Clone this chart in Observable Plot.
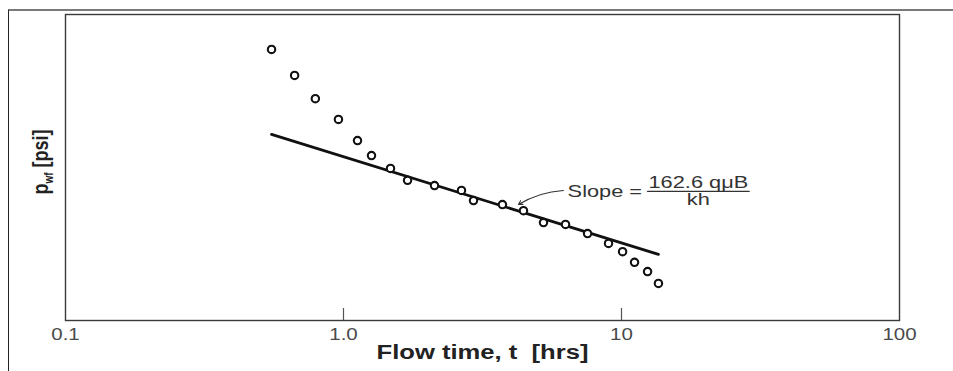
<!DOCTYPE html>
<html>
<head>
<meta charset="utf-8">
<script src="https://cdn.jsdelivr.net/npm/d3@7"></script>
<script src="https://cdn.jsdelivr.net/npm/@observablehq/plot@0.6"></script>
<style>
  html, body { margin: 0; padding: 0; background: #fff; }
  #wrap { position: relative; width: 953px; height: 371px; overflow: hidden; }
  #outer { position: absolute; left: 8px; top: 9px; right: 0; bottom: 0;
           border-top: 2px solid #7a7a7a; border-left: 1.5px solid #222; }
  #chart { position: absolute; left: 0; top: 0; }
</style>
</head>
<body>
<div id="wrap"><div id="outer"></div><div id="chart"></div></div>
<script>
// Measured data (flow time in hours, bottom-hole flowing pressure in psi, arbitrary scale)
const flowTime = [0.551, 0.667, 0.792, 0.959, 1.123, 1.261, 1.476, 1.70, 2.125, 2.657, 2.935,
                  3.73, 4.44, 5.24, 6.29, 7.55, 8.98, 10.09, 11.14, 12.41, 13.58];
const pwf = [2886, 2801, 2725, 2657, 2588, 2539, 2497, 2458, 2441, 2425, 2392,
             2379, 2359, 2320, 2314, 2284, 2252, 2225, 2190, 2160, 2121];

// Straight-line (semilog) fit
const fitTime = [0.551, 13.58];
const fitP = [2608, 2216];

// Axis ticks
const xTicks = [0.1, 1, 10, 100];
const xTickLabels = ["0.1", "1.0", "10", "100"];
const xInnerTicks = [1, 10];
const xLabel = "Flow time, t  [hrs]";

// Annotation
const slopeLabel = "Slope =";
const slopeLabelPos = [6.40, 2420];
const numerator = "162.6 qμB";
const denominator = "kh";
const fracCenter = 18.9;
const fracNumP = 2451;
const fracDenP = 2394;
const fracLineT = [12.4, 28.8];
const fracLineP = 2422;
const arrowFrom = [6.18, 2425];
const arrowTo = [4.26, 2379];

const pts = flowTime.map((t, i) => ({t, p: pwf[i]}));
const fit = fitTime.map((t, i) => ({t, p: fitP[i]}));

const plot = Plot.plot({
  width: 953,
  height: 371,
  marginLeft: 65,
  marginRight: 54,
  marginTop: 14,
  marginBottom: 51,
  style: {fontFamily: "'Liberation Sans', Arial, sans-serif", background: "transparent"},
  x: {type: "log", domain: [0.1, 100]},
  y: {domain: [2000, 3000], axis: null},
  marks: [
    Plot.frame({stroke: "#3a3a3a", strokeWidth: 1.4}),
    Plot.tickX(xInnerTicks, {x: d => d, insetTop: 294, stroke: "#555", strokeWidth: 1.2}),
    Plot.axisX({ticks: xTicks, tickSize: 0, tickPadding: 8, fontSize: 16, fill: "#4a4a4a",
                tickFormat: d => xTickLabels[xTicks.indexOf(d)], label: null}),
    Plot.text([xLabel], {frameAnchor: "bottom", dy: 38, text: d => d, fontSize: 20,
                         fontWeight: "bold", fill: "#222"}),
    Plot.line(fit, {x: "t", y: "p", stroke: "#111", strokeWidth: 2.8}),
    Plot.dot(pts, {x: "t", y: "p", r: 3.7, stroke: "#111", strokeWidth: 2.1, fill: "white"}),
    Plot.arrow([{a: arrowFrom, b: arrowTo}], {x1: d => d.a[0], y1: d => d.a[1], x2: d => d.b[0], y2: d => d.b[1],
                bend: -14, headLength: 6, stroke: "#333", strokeWidth: 1.1}),
    Plot.text([slopeLabel], {x: slopeLabelPos[0], y: slopeLabelPos[1], text: d => d, textAnchor: "start",
                             fontSize: 17, fill: "#333"}),
    Plot.text([numerator], {x: fracCenter, y: fracNumP, text: d => d, fontSize: 17, fill: "#333"}),
    Plot.text([denominator], {x: fracCenter, y: fracDenP, text: d => d, fontSize: 17, fill: "#333"}),
    Plot.line(fracLineT.map(t => ({t, p: fracLineP})), {x: "t", y: "p", stroke: "#333", strokeWidth: 1.3})
  ]
});

document.getElementById("chart").appendChild(plot);

// Horizontal stretch of horizontal texts to match the reference's wide rendering
d3.select(plot).selectAll("text").each(function() {
  const w = this.getComputedTextLength();
  if (w > 0) {
    this.setAttribute("textLength", (w * 1.28).toFixed(1));
    this.setAttribute("lengthAdjust", "spacingAndGlyphs");
  }
});

// Y axis label with subscript (rotated, glyphs widened horizontally like the reference)
const yl = d3.select(plot).append("text")
  .attr("transform", "translate(48,162) scale(1.25,1) rotate(-90)")
  .attr("text-anchor", "middle")
  .attr("font-weight", "bold")
  .attr("font-size", 18)
  .attr("fill", "#222");
yl.append("tspan").text("p");
yl.append("tspan").attr("font-size", 10).attr("dy", 4).text("wf");
yl.append("tspan").attr("dy", -4).text(" [psi]");
</script>
</body>
</html>
